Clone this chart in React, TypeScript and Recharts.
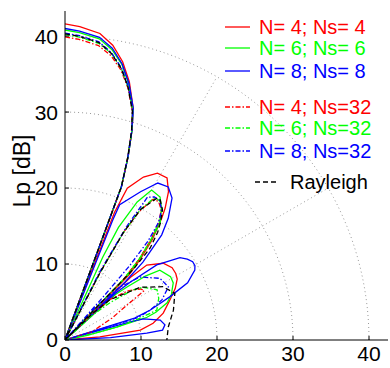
import { LineChart, Line, XAxis, YAxis } from "recharts";

// polar samples: [angle in degrees, level in dB]
const redSolid = [
    [90, 41.6], [87.3, 41.3], [83.5, 40.6], [80.8, 39.3], [78.3, 37.4], [76, 35], [73.6, 31.8], [72.3, 29], [71, 25.5], [69.8, 21.5], [69.5, 0],
    [69, 0], [68.8, 18], [67.7, 21.6], [64.3, 23.8], [61, 25.1], [57.8, 25.2], [55.1, 23.8], [52.8, 21.8], [51.6, 20.5], [49, 17.5], [47, 14.5], [45.5, 12], [45, 0],
    [44, 0], [43.8, 11.9], [42.5, 14.6], [38, 16.4], [34, 17], [31, 17], [28.5, 16.8], [25, 16], [21, 14.8], [15.3, 13.4], [10.8, 11.8], [7.5, 10], [5, 4.6], [3, 0], [0, 0],
];
const greenSolid = [
    [90, 40.8], [87.3, 40.5], [83.5, 39.9], [80.8, 38.7], [78.3, 37], [76, 34.7], [73.6, 31.7], [72.3, 29], [71, 25.5], [69.8, 21.5], [69.5, 0],
    [65.8, 0], [65.5, 12], [64.6, 16.4], [62.4, 20.5], [60, 22.8], [56.4, 22.6], [53.9, 21.5], [51, 19.9], [49, 17], [47.5, 14.6], [46, 12], [45.5, 0],
    [42.5, 0], [42, 9], [40.5, 10.8], [38.5, 13.5], [36.4, 15.5], [31, 16.2], [27.8, 16.1], [23, 15.2], [20, 14.3], [17, 12.5], [15.5, 11.2], [14, 7], [12, 3], [10, 0], [0, 0],
];
const blueSolid = [
    [90, 41], [87.3, 40.7], [83.5, 40.1], [80.8, 38.9], [78.3, 37.1], [76, 34.8], [73.6, 31.8], [72.3, 29], [71, 25.5], [69.8, 21.5], [69.5, 0],
    [68.5, 0], [68.3, 17], [68, 19.2], [63, 21.9], [59.4, 24], [56, 24.3], [53, 23.4], [49.7, 21], [47.4, 18.8], [45, 14.5], [44, 11], [43.7, 0],
    [43.2, 0], [42.8, 9], [41.6, 11.4], [39.3, 15.6], [35.6, 18.6], [33.5, 19.3], [31.5, 19.7], [29.8, 19.7], [28.3, 19.4], [25, 17.8], [22.4, 14.9], [19.4, 11.9], [17.5, 9.6], [17, 0],
    [16, 0], [15.5, 9], [15, 10.7], [11.8, 12.8], [8.6, 13.3], [5.8, 12.9], [4.8, 10.8], [3, 6], [2, 0], [0, 0],
];
const redNs32 = [
    [90, 39.9], [87.3, 39.6], [83.5, 39], [80.8, 37.9], [78.3, 36.3], [76, 34.2], [73.6, 31.4], [72.3, 28.8], [71, 25.3], [69.8, 21.5], [69.5, 0],
    [63, 0], [62.5, 10], [61.5, 16], [60, 19.5], [58, 21.8], [56, 22], [53.5, 21.3], [51.5, 19.8], [49.5, 17.5], [47.5, 14.5], [46, 11], [45, 0],
    [44, 0], [43.5, 5], [42, 8], [38, 10.5], [34, 12], [32, 12.3], [30, 9.9], [25, 6.8], [17, 3.7], [15, 0], [0, 0],
];
const greenNs32 = [
    [90, 40.2], [87.3, 39.9], [83.5, 39.3], [80.8, 38.2], [78.3, 36.5], [76, 34.3], [73.6, 31.5], [72.3, 28.9], [71, 25.3], [69.8, 21.5], [69.5, 0],
    [63, 0], [62.5, 10], [61.5, 16], [60, 19.8], [58, 22], [56, 22.2], [53.5, 21.5], [51.5, 20], [49.5, 17.5], [47.5, 14.5], [46, 11], [45, 0],
    [43, 0], [42, 5], [39.7, 7.7], [36.5, 11.1], [34, 12.4], [28.6, 13.8], [24, 13.5], [18, 12.7], [16, 10], [14, 7], [13, 4], [12.5, 0], [0, 0],
];
const blueNs32 = [
    [90, 40.4], [87.3, 40.1], [83.5, 39.5], [80.8, 38.3], [78.3, 36.6], [76, 34.4], [73.6, 31.5], [72.3, 28.9], [71, 25.3], [69.8, 21.5], [69.5, 0],
    [63.5, 0], [63, 10], [61.5, 17], [60, 21.7], [58, 22.2], [56, 22.2], [53.5, 21.4], [51.5, 19.8], [50, 17], [49, 13], [48.5, 8], [48, 0],
    [47, 0], [46.8, 6.7], [44, 10], [40, 12.9], [33, 14.9], [27.2, 15.3], [22.5, 13.8], [19.2, 11.8], [17, 9.9], [16, 0], [0, 0],
];
const rayleigh = [
    [90, 40.3], [87.3, 40], [83.5, 39.4], [80.8, 38.2], [78.3, 36.5], [76, 34.3], [73.6, 31.4], [72.3, 28.8], [71, 25.3], [69.8, 21.5], [69.5, 0],
    [63, 0], [62.5, 10], [61.5, 16], [60, 19.8], [57, 22.3], [55.8, 22.3], [53.2, 21.4], [51, 20], [49.3, 18.7], [47.2, 16.5], [46, 13], [45.5, 0],
    [45, 0], [44, 5], [42, 7.9], [35, 12.1], [28.5, 14.7], [23, 15.7], [15.4, 14.8], [7.2, 13.7], [0, 13.4],
];

const ticks = [0, 10, 20, 30, 40];
const rings = [10, 20, 30, 40];
const spokes = [30, 60];

const series = [
    { name: "N= 4; Ns= 4", pts: redSolid, color: "#ff0000", dash: undefined },
    { name: "N= 6; Ns= 6", pts: greenSolid, color: "#00ff00", dash: undefined },
    { name: "N= 8; Ns= 8", pts: blueSolid, color: "#0000ff", dash: undefined },
    { name: "N= 4; Ns=32", pts: redNs32, color: "#ff0000", dash: "5 2 1.5 2" },
    { name: "N= 6; Ns=32", pts: greenNs32, color: "#00ff00", dash: "5 2 1.5 2" },
    { name: "N= 8; Ns=32", pts: blueNs32, color: "#0000ff", dash: "5 2 1.5 2" },
    { name: "Rayleigh", pts: rayleigh, color: "#000000", dash: "5 3" },
];

const rad = Math.PI / 180;
const toXY = (pts: number[][]) =>
    pts.map(([a, r]) => ({ x: r * Math.cos(a * rad), y: r * Math.sin(a * rad) }));

const ringData = rings.map((r) => {
    const out = [];
    for (let a = 0; a <= 90; a += 2) out.push([a, r]);
    return toXY(out);
});
const spokeData = spokes.map((a) => toXY([[a, 0], [a, 40]]));

const font = "'Liberation Sans', Arial, Helvetica, sans-serif";

function Overlay() {
    const rows = [27, 48, 71, 107, 128, 151];
    return (
        <svg width={390} height={368} style={{ position: "absolute", left: 0, top: 0, pointerEvents: "none" }}>
            {series.slice(0, 6).map((s, i) => (
                <g key={s.name}>
                    <line x1={225} x2={250} y1={rows[i]} y2={rows[i]} stroke={s.color} strokeWidth={1.3} strokeDasharray={s.dash} />
                    <text x={259} y={rows[i] + 7} fill={s.color} fontSize={20} fontFamily={font}>{s.name}</text>
                </g>
            ))}
            <line x1={255} x2={279} y1={182} y2={182} stroke="#000" strokeWidth={1.3} strokeDasharray="5 3" />
            <text x={290} y={189} fill="#000" fontSize={20} fontFamily={font}>Rayleigh</text>
            <text x={0} y={0} transform="translate(30 171) rotate(-90)" textAnchor="middle" fill="#000" fontSize={23} fontFamily={font}>Lp [dB]</text>
        </svg>
    );
}

export default function App() {
    return (
        <div style={{ position: "absolute", left: 0, top: 0, width: 390, height: 368, background: "#fff" }}>
            <LineChart width={390} height={368} margin={{ top: 11, right: 2, bottom: 0, left: 0 }}>
                <XAxis
                    type="number"
                    dataKey="x"
                    domain={[0, 42.5]}
                    ticks={ticks}
                    allowDataOverflow
                    height={28}
                    tickSize={-4}
                    tickMargin={10}
                    stroke="#000"
                    tick={{ fill: "#000", fontSize: 21, fontFamily: font }}
                />
                <YAxis
                    type="number"
                    dataKey="y"
                    domain={[0, 43.3]}
                    ticks={ticks}
                    allowDataOverflow
                    width={65}
                    tickSize={-4}
                    tickMargin={11}
                    stroke="#000"
                    tick={{ fill: "#000", fontSize: 21, fontFamily: font }}
                />
                {ringData.map((d, i) => (
                    <Line key={"ring" + i} data={d} dataKey="y" stroke="#999" strokeWidth={1} strokeDasharray="1 3" dot={false} isAnimationActive={false} type="linear" />
                ))}
                {spokeData.map((d, i) => (
                    <Line key={"spoke" + i} data={d} dataKey="y" stroke="#999" strokeWidth={1} strokeDasharray="1 3" dot={false} isAnimationActive={false} type="linear" />
                ))}
                {series.map((s) => (
                    <Line
                        key={s.name}
                        data={toXY(s.pts)}
                        dataKey="y"
                        name={s.name}
                        stroke={s.color}
                        strokeWidth={1.3}
                        strokeDasharray={s.dash}
                        dot={false}
                        isAnimationActive={false}
                        type="linear"
                    />
                ))}
            </LineChart>
            <Overlay />
        </div>
    );
}
